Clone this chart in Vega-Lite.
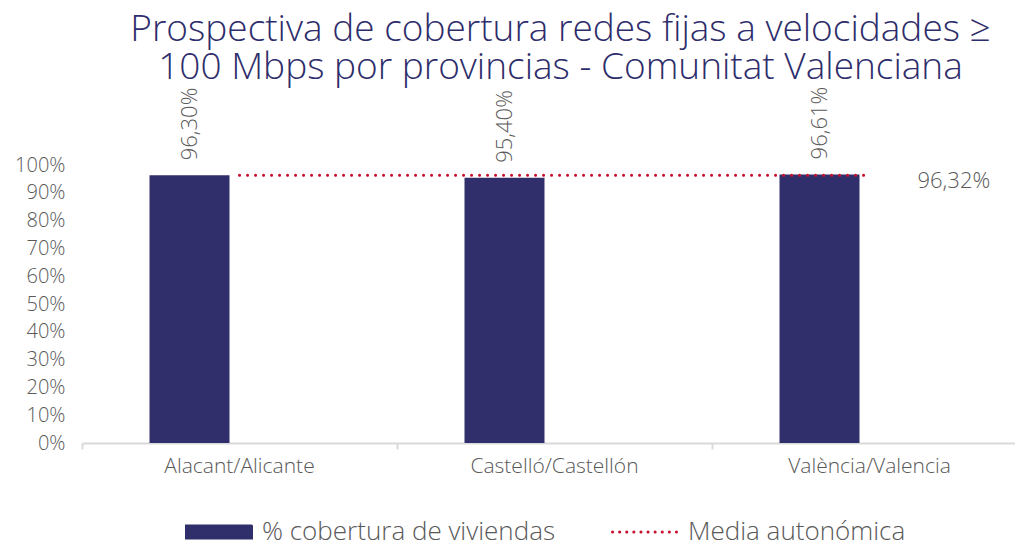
{
  "$schema": "https://vega.github.io/schema/vega-lite/v6.json",
  "width": 933,
  "height": 278,
  "autosize": "none",
  "padding": {"left": 82, "top": 165, "right": 0, "bottom": 99},
  "config": {
    "view": {"stroke": null},
    "font": "Open Sans",
    "locale": {"number": {"decimal": ",", "thousands": ".", "grouping": [3], "currency": ["", " €"]}},
    "axisY": {"labelOverlap": false}
  },
  "title": {
    "text": ["Prospectiva de cobertura redes fijas a velocidades ≥", "100 Mbps por provincias - Comunitat Valenciana"],
    "fontSize": 37,
    "font": "Open Sans",
    "fontWeight": 300,
    "color": "#2E2D6B",
    "lineHeight": 38,
    "offset": 0,
    "dx": 12
  },
  "data": {
    "values": [
      {"provincia": "Alacant/Alicante", "cobertura": 0.963, "media": 0.9632},
      {"provincia": "Castelló/Castellón", "cobertura": 0.954, "media": 0.9632},
      {"provincia": "València/Valencia", "cobertura": 0.9661, "media": 0.9632}
    ]
  },
  "encoding": {
    "x": {
      "field": "provincia",
      "type": "nominal",
      "sort": null,
      "scale": {"range": [0, 945], "paddingInner": 0, "paddingOuter": 0},
      "axis": {
        "title": null,
        "labelAngle": 0,
        "labelFontSize": 21,
        "labelFontWeight": 300,
        "labelColor": "#595959",
        "labelPadding": 6,
        "domainColor": "#D9D9D9",
        "domainWidth": 2,
        "tickColor": "#D9D9D9",
        "tickWidth": 2,
        "tickSize": 6,
        "bandPosition": 0
      }
    },
    "y": {
      "field": "cobertura",
      "type": "quantitative",
      "scale": {"domain": [0, 1]},
      "axis": {
        "title": null,
        "format": "0%",
        "values": [0, 0.1, 0.2, 0.3, 0.4, 0.5, 0.6, 0.7, 0.8, 0.9, 1],
        "labelOverlap": false,
        "grid": false,
        "domain": false,
        "ticks": false,
        "labelFontSize": 20,
        "labelFontWeight": 300,
        "labelColor": "#595959",
        "labelPadding": 17
      }
    }
  },
  "layer": [
    {
      "mark": {"type": "bar", "width": 80},
      "encoding": {
        "xOffset": {
          "datum": "% cobertura de viviendas",
          "scale": {"domain": ["% cobertura de viviendas", "Media autonómica"], "paddingInner": 0.2, "paddingOuter": 0.675}
        },
        "color": {
          "datum": "% cobertura de viviendas",
          "scale": {"domain": ["% cobertura de viviendas", "Media autonómica"], "range": ["#302F6B", "#C8102E"]},
          "legend": {
            "title": null,
            "orient": "none",
            "legendX": 103,
            "legendY": 333,
            "direction": "horizontal",
            "labelFontSize": 26,
            "labelFontWeight": 300,
            "labelColor": "#595959",
            "labelLimit": 0,
            "symbolSize": 4225,
            "labelOffset": 9,
            "columnPadding": 50,
            "encode": {
              "symbols": {
                "update": {
                  "shape": {"signal": "datum.value === 'Media autonómica' ? 'stroke' : 'M-1,-0.185H1V0.185H-1Z'"},
                  "fill": {"signal": "datum.value === 'Media autonómica' ? 'transparent' : '#302F6B'"},
                  "stroke": {"signal": "datum.value === 'Media autonómica' ? '#C8102E' : 'transparent'"},
                  "strokeWidth": {"value": 3},
                  "strokeCap": {"value": "round"},
                  "strokeDash": {"signal": "datum.value === 'Media autonómica' ? [0.1, 7] : [1, 0]"}
                }
              }
            }
          }
        }
      }
    },
    {
      "mark": {"type": "text", "angle": 270, "align": "left", "baseline": "middle", "dx": 15, "fontSize": 22, "fontWeight": 300, "color": "#595959"},
      "encoding": {
        "xOffset": {"datum": "% cobertura de viviendas"},
        "text": {"field": "cobertura", "type": "quantitative", "format": ".2%"}
      }
    },
    {
      "mark": {"type": "line", "strokeWidth": 3, "strokeDash": [0.1, 7.9], "strokeCap": "round"},
      "encoding": {
        "y": {"field": "media", "type": "quantitative"},
        "color": {"datum": "Media autonómica"}
      }
    },
    {
      "transform": [{"filter": "datum.provincia === 'València/Valencia'"}],
      "mark": {"type": "text", "align": "left", "baseline": "middle", "dx": 48, "dy": 6, "fontSize": 22, "fontWeight": 300, "color": "#595959"},
      "encoding": {
        "y": {"field": "media", "type": "quantitative"},
        "text": {"field": "media", "type": "quantitative", "format": ".2%"}
      }
    }
  ]
}
